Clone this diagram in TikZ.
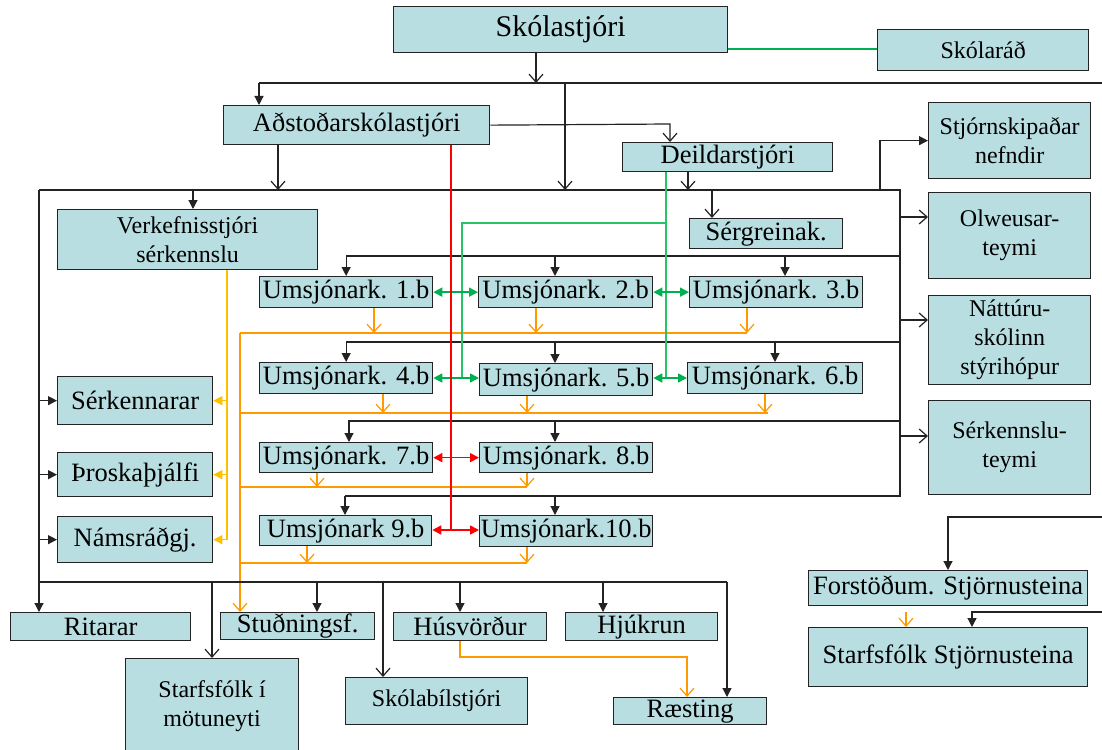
\documentclass[tikz,border=0pt]{standalone}
\usepackage{fontspec}
\setmainfont{Liberation Serif}
\usetikzlibrary{arrows.meta}
\definecolor{boxc}{RGB}{184,222,225}
\definecolor{lnc}{RGB}{35,35,35}
\definecolor{grn}{RGB}{0,176,80}
\definecolor{lgrn}{RGB}{40,195,100}
\definecolor{org}{RGB}{255,153,0}
\definecolor{gold}{RGB}{255,192,0}
\tikzset{
  box/.style={draw=lnc, line width=1.3pt, fill=boxc, inner sep=0pt, align=center, anchor=north west, text=black},
  fA/.style={font=\fontsize{30pt}{32pt}\selectfont},
  fB/.style={font=\fontsize{26.5pt}{28pt}\selectfont},
  fC/.style={font=\fontsize{24pt}{29pt}\selectfont},
  ln/.style={draw=lnc, line width=1.2pt},
  farr/.style={ln, -{Triangle[length=9pt,width=9pt]}},
  oarr/.style={ln, -{Straight Barb[length=8pt,width=14pt]}},
  gl/.style={draw=lgrn, line width=1.2pt},
  garr/.style={draw=grn, line width=1.6pt, {Triangle[length=9pt,width=9pt]}-{Triangle[length=9pt,width=9pt]}},
  rl/.style={draw=red, line width=1.3pt},
  rarr/.style={draw=red, line width=1.6pt, {Triangle[length=9pt,width=9pt]}-{Triangle[length=9pt,width=9pt]}},
  ol/.style={draw=org, line width=1.2pt},
  oyarr/.style={ol, -{Straight Barb[length=8pt,width=14pt]}},
  yl/.style={draw=gold, line width=1.4pt},
  yarr/.style={yl, -{Triangle[length=9pt,width=9pt]}},
}
\begin{document}
\begin{tikzpicture}[x=1pt,y=-1pt]
\useasboundingbox[fill=white] (0,0) rectangle (1102,749);

% ---- nodes
\node[box,fA,minimum width=334pt,minimum height=46pt] (sk) at (393,6) {Skólastjóri};
\node[box,fC,minimum width=211pt,minimum height=41pt] (sr) at (877,29) {Skólaráð};
\node[box,fB,minimum width=266pt,minimum height=39pt] (ad) at (223,105) {Aðstoðarskólastjóri};
\node[box,fB,minimum width=210pt,minimum height=29pt] (dl) at (622,142) {Deildarstjóri};
\node[box,fC,minimum width=260pt,minimum height=60pt] (verk) at (57,209) {Verkefnisstjóri\\sérkennslu};
\node[box,fB,minimum width=153pt,minimum height=30pt] (sg) at (689,218) {Sérgreinak.};
\node[box,fB,minimum width=173pt,minimum height=31pt] (u1) at (259,276) {Umsjónark. 1.b};
\node[box,fB,minimum width=174pt,minimum height=31pt] (u2) at (478,276) {Umsjónark. 2.b};
\node[box,fB,minimum width=173pt,minimum height=31pt] (u3) at (689,276) {Umsjónark. 3.b};
\node[box,fB,minimum width=173pt,minimum height=31pt] (u4) at (259,362) {Umsjónark. 4.b};
\node[box,fB,minimum width=173pt,minimum height=32pt] (u5) at (479,363) {Umsjónark. 5.b};
\node[box,fB,minimum width=175pt,minimum height=31pt] (u6) at (687,362) {Umsjónark. 6.b};
\node[box,fB,minimum width=173pt,minimum height=30pt] (u7) at (259,442) {Umsjónark. 7.b};
\node[box,fB,minimum width=173pt,minimum height=30pt] (u8) at (479,442) {Umsjónark. 8.b};
\node[box,fB,minimum width=172pt,minimum height=30pt] (u9) at (259,515) {Umsjónark 9.b};
\node[box,fB,minimum width=173pt,minimum height=31pt] (u10) at (479,515) {Umsjónark.10.b};
\node[box,fB,minimum width=155pt,minimum height=48pt] (sken) at (57,376) {Sérkennarar};
\node[box,fB,minimum width=155pt,minimum height=44pt] (thr) at (57,452) {Þroskaþjálfi};
\node[box,fB,minimum width=155pt,minimum height=46pt] (nams) at (57,516) {Námsráðgj.};
\node[box,fC,minimum width=162pt,minimum height=76pt] (stj) at (928,102) {Stjórnskipaðar\\nefndir};
\node[box,fC,minimum width=162pt,minimum height=86pt] (olw) at (928,192) {Olweusar-\\teymi};
\node[box,fC,minimum width=162pt,minimum height=89pt] (natt) at (928,295) {Náttúru-\\skólinn\\stýrihópur};
\node[box,fC,minimum width=162pt,minimum height=94pt] (sket) at (928,400) {Sérkennslu-\\teymi};
\node[box,fB,minimum width=180pt,minimum height=28pt] (rit) at (10,612) {Ritarar};
\node[box,fB,minimum width=154pt,minimum height=27pt] (stud) at (220,612) {Stuðningsf.};
\node[box,fB,minimum width=153pt,minimum height=28pt] (hus) at (393,612) {Húsvörður};
\node[box,fB,minimum width=152pt,minimum height=28pt] (hjuk) at (565,612) {Hjúkrun};
\node[box,fC,minimum width=173pt,minimum height=95pt] (mot) at (125,658) {Starfsfólk í\\mötuneyti};
\node[box,fC,minimum width=182pt,minimum height=47pt] (skb) at (345,677) {Skólabílstjóri};
\node[box,fB,minimum width=153pt,minimum height=27pt] (raes) at (613,697) {Ræsting};
\node[box,fB,minimum width=279pt,minimum height=35pt] (fors) at (808,570) {Forstöðum. Stjörnusteina};
\node[box,fB,minimum width=279pt,minimum height=59pt] (sfst) at (808,627) {Starfsfólk Stjörnusteina};

% ---- named bus points
\coordinate (tA) at (536,83);
\coordinate (tL) at (259,83);
\coordinate (tR) at (1102,83);
\coordinate (tM) at (565,83);
\coordinate (bTL) at (39,190);
\coordinate (bTR) at (900,190);
\coordinate (bBR) at (900,496);
\coordinate (r1) at (900,256);
\coordinate (r2) at (900,342);
\coordinate (r3) at (900,421);
\coordinate (dk) at (670,124);
\coordinate (bL) at (39,582);
\coordinate (bR) at (727,582);
\coordinate (fR) at (1102,517);
\coordinate (sR) at (1102,612);

% ---- top
\draw[grn, line width=1.6pt] (sk.east |- 0,49) -- (sr.west |- 0,49);
\draw[oarr] (sk.south -| tA) -- (tA);
\draw[ln] (tL) -- (tR);
\draw[farr] (tL) -- (ad.north -| tL);
\draw[oarr] (tM) -- (tM |- bTL);
\draw[oarr] (ad.east) -- (dk) -- (dl.north -| dk);
\draw[oarr] (ad.south -| 278,0) -- (278,190);
\draw[oarr] (dl.south -| 688,0) -- (688,190);

% ---- big frame
\draw[ln] (bTL) -- (bTR) -- (bBR) -- (345,496);
\draw[farr] (bTL) -- (rit.north -| bTL);
\draw[farr] (193,190) -- (verk.north -| 193,0);
\draw[oarr] (712,190) -- (sg.north -| 712,0);
\draw[farr] (880,190) |- (stj.west);

% ---- right groups
\draw[oarr] (900,217) -- (olw.west |- 0,217);
\draw[oarr] (900,320) -- (natt.west |- 0,320);
\draw[oarr] (900,436) -- (sket.west |- 0,436);

% ---- rows
\draw[farr] (r1) -| (u1.north);
\draw[farr] (r1 -| 555,0) -- (u2.north -| 555,0);
\draw[farr] (r1 -| 785,0) -- (u3.north -| 785,0);
\draw[farr] (r2) -| (u4.north);
\draw[farr] (r2 -| 555,0) -- (u5.north -| 555,0);
\draw[farr] (r2 -| 775,0) -- (u6.north -| 775,0);
\draw[farr] (r3) -| (u7.north -| 349,0);
\draw[farr] (r3 -| 555,0) -- (u8.north -| 555,0);
\draw[farr] (bBR -| 345,0) -- (u9.north -| 345,0);
\draw[farr] (bBR -| 555,0) -- (u10.north -| 555,0);

% ---- left column
\draw[farr] (bTL |- sken.west) -- (sken.west);
\draw[farr] (bTL |- thr.west) -- (thr.west);
\draw[farr] (bTL |- nams.west) -- (nams.west);
\draw[yl] (verk.south -| 227,0) -- (nams.east -| 227,0);
\draw[yarr] (sken.east -| 227,0) -- (sken.east);
\draw[yarr] (thr.east -| 227,0) -- (thr.east);
\draw[yarr] (nams.east -| 227,0) -- (nams.east);

% ---- orange
\draw[oyarr] (240,333) -- (stud.north -| 240,0);
\draw[ol] (240,333) -- (747,333);
\draw[ol] (240,413) -- (768,413);
\draw[ol] (240,487) -- (527,487);
\draw[ol] (240,563) -- (527,563);
\draw[oyarr] (u1.south -| 374,0) -- (374,333);
\draw[oyarr] (u2.south -| 536,0) -- (536,333);
\draw[oyarr] (u3.south -| 747,0) -- (747,333);
\draw[oyarr] (u4.south -| 383,0) -- (383,413);
\draw[oyarr] (u5.south -| 527,0) -- (527,413);
\draw[oyarr] (u6.south -| 765,0) -- (765,413);
\draw[oyarr] (u7.south -| 317,0) -- (317,487);
\draw[oyarr] (u8.south -| 527,0) -- (527,487);
\draw[oyarr] (u9.south -| 307,0) -- (307,563);
\draw[oyarr] (u10.south -| 527,0) -- (527,563);

% ---- green
\draw[gl] (dl.south -| 666,0) -- (666,378);
\draw[gl] (666,223) -- (462,223) -- (462,378);
\draw[garr] (u1.east) -- (u2.west);
\draw[garr] (u2.east) -- (u3.west);
\draw[garr] (u4.east |- 0,378) -- (u5.west |- 0,378);
\draw[garr] (u5.east |- 0,378) -- (u6.west |- 0,378);

% ---- red
\draw[rl] (ad.south -| 451,0) -- (451,530);
\draw[rarr] (u7.east) -- (u8.west);
\draw[rarr] (u9.east |- 0,530) -- (u10.west |- 0,530);

% ---- bottom
\draw[ln] (bL) -- (bR);
\draw[farr] (bR) -- (raes.north -| bR);
\draw[oarr] (bL -| 212,0) -- (mot.north -| 212,0);
\draw[farr] (bL -| 317,0) -- (stud.north -| 317,0);
\draw[oarr] (bL -| 383,0) -- (skb.north -| 383,0);
\draw[farr] (bL -| 460,0) -- (hus.north -| 460,0);
\draw[farr] (bL -| 603,0) -- (hjuk.north -| 603,0);
\draw[oyarr] (hus.south -| 460,0) -- (460,657) -- (687,657) -- (raes.north -| 687,0);

% ---- Stjornusteinn
\draw[farr] (fR) -- (948,517) -- (fors.north -| 948,0);
\draw[farr] (sR) -- (972,612) -- (sfst.north -| 972,0);
\draw[oyarr] (906,612) -- (sfst.north -| 906,0);
\end{tikzpicture}
\end{document}
